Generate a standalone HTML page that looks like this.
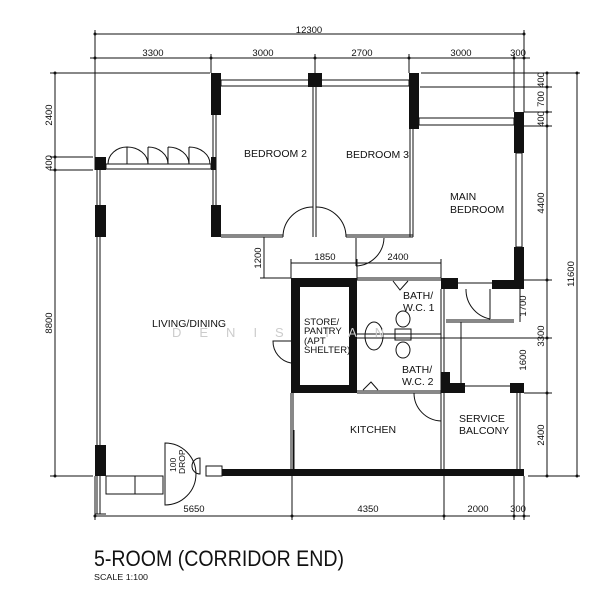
<!DOCTYPE html>
<html><head><meta charset="utf-8"><style>
html,body{margin:0;padding:0;background:#fff;}
svg{display:block;}
text{font-family:"Liberation Sans Narrow","Liberation Sans",sans-serif;fill:#111;}
</style></head><body>
<svg width="615" height="600" viewBox="0 0 615 600" xmlns="http://www.w3.org/2000/svg">
<g stroke="#111" stroke-width="1" fill="none">
<line x1="95" y1="34" x2="524" y2="34"/>
<line x1="95" y1="30" x2="95" y2="170"/><line x1="524" y1="30" x2="524" y2="112"/>
<line x1="90" y1="58" x2="530" y2="58"/>
<line x1="211" y1="54" x2="211" y2="73"/><line x1="315" y1="54" x2="315" y2="73"/>
<line x1="409" y1="54" x2="409" y2="73"/><line x1="514" y1="54" x2="514" y2="112"/>
<line x1="55" y1="73" x2="55" y2="476"/>
<line x1="50" y1="73" x2="210" y2="73"/>
<line x1="50" y1="157" x2="93" y2="157"/><line x1="50" y1="170" x2="93" y2="170"/>
<line x1="50" y1="476" x2="93" y2="476"/>
<line x1="421" y1="73" x2="580" y2="73"/>
<line x1="420" y1="87" x2="552" y2="87"/>
<line x1="524" y1="112" x2="552" y2="112"/><line x1="524" y1="126" x2="552" y2="126"/>
<line x1="547" y1="73" x2="547" y2="476"/>
<line x1="577" y1="73" x2="577" y2="476"/>
<line x1="524" y1="280" x2="552" y2="280"/>
<line x1="350" y1="338" x2="552" y2="338"/>
<line x1="524" y1="393" x2="552" y2="393"/>
<line x1="528" y1="476" x2="580" y2="476"/>
<line x1="291" y1="263" x2="441" y2="263"/>
<line x1="291" y1="259" x2="291" y2="278"/><line x1="357" y1="259" x2="357" y2="280"/><line x1="441" y1="259" x2="441" y2="278"/>
<line x1="264" y1="237" x2="264" y2="278"/><line x1="260" y1="278" x2="291" y2="278"/>
<line x1="95" y1="516" x2="530" y2="516"/>
<line x1="95" y1="476" x2="95" y2="520"/><line x1="292" y1="476" x2="292" y2="520"/>
<line x1="444" y1="476" x2="444" y2="520"/><line x1="514" y1="476" x2="514" y2="520"/><line x1="524" y1="476" x2="524" y2="520"/>
</g>
<g fill="#111">
<circle cx="95" cy="34" r="1.5"/><circle cx="524" cy="34" r="1.5"/>
<circle cx="95" cy="58" r="1.5"/><circle cx="211" cy="58" r="1.5"/><circle cx="315" cy="58" r="1.5"/><circle cx="409" cy="58" r="1.5"/><circle cx="514" cy="58" r="1.5"/><circle cx="524" cy="58" r="1.5"/>
<circle cx="55" cy="73" r="1.5"/><circle cx="55" cy="157" r="1.5"/><circle cx="55" cy="170" r="1.5"/><circle cx="55" cy="476" r="1.5"/>
<circle cx="547" cy="73" r="1.5"/><circle cx="547" cy="87" r="1.5"/><circle cx="547" cy="112" r="1.5"/><circle cx="547" cy="126" r="1.5"/><circle cx="547" cy="280" r="1.5"/><circle cx="547" cy="338" r="1.5"/><circle cx="547" cy="393" r="1.5"/><circle cx="547" cy="476" r="1.5"/>
<circle cx="577" cy="73" r="1.5"/><circle cx="577" cy="476" r="1.5"/>
<circle cx="95" cy="516" r="1.5"/><circle cx="292" cy="516" r="1.5"/><circle cx="444" cy="516" r="1.5"/><circle cx="514" cy="516" r="1.5"/><circle cx="524" cy="516" r="1.5"/>
<rect x="211" y="73" width="10" height="42"/>
<rect x="308" y="73" width="14" height="14"/>
<rect x="409" y="73" width="10" height="56"/>
<rect x="514" y="112" width="10" height="41"/>
<rect x="514" y="247" width="10" height="42"/>
<rect x="492" y="280" width="32" height="9"/>
<rect x="441" y="278" width="17" height="11"/>
<rect x="95" y="157" width="11" height="13"/>
<rect x="211" y="157" width="5" height="13"/>
<rect x="95" y="205" width="11" height="32"/>
<rect x="211" y="205" width="10" height="32"/>
<rect x="95" y="445" width="11" height="31"/>
<rect x="222" y="469" width="302" height="7"/>
<path d="M291 278H357V393H291Z M300 287V385H349V287Z" fill-rule="evenodd"/>
<rect x="441" y="372" width="9" height="21"/>
<rect x="441" y="383" width="24" height="10"/>
<rect x="510" y="383" width="14" height="10"/>
</g>
<g stroke="#111" stroke-width="1" fill="none">
<rect x="221" y="80" width="188" height="6"/>
<rect x="419" y="118" width="95" height="7"/>
<rect x="516" y="153" width="6" height="94"/>
<rect x="106" y="164" width="105" height="5"/>
<path d="M108 164 A19 17 0 0 1 127 147 M127 147 V164 M127 147 A21 17 0 0 1 148 164 M148 147 V164 M148 147 A20 17 0 0 1 168 164 M168 147 V164 M168 147 A21 17 0 0 1 189 164 M189 147 V164 M189 147 A21 17 0 0 1 210 164"/>
<line x1="97" y1="170" x2="97" y2="514"/><line x1="100" y1="170" x2="100" y2="445"/>
<line x1="213" y1="115" x2="213" y2="237"/><line x1="216" y1="115" x2="216" y2="237"/>
<line x1="313" y1="87" x2="313" y2="237"/><line x1="316" y1="87" x2="316" y2="237"/>
<line x1="410" y1="129" x2="410" y2="237"/><line x1="413" y1="129" x2="413" y2="237"/>
<line x1="221" y1="235" x2="283" y2="235"/><line x1="221" y1="237" x2="283" y2="237"/>
<line x1="346" y1="235" x2="413" y2="235"/><line x1="346" y1="237" x2="413" y2="237"/>
<path d="M283 237 A30 30 0 0 1 313 207 M346 237 A30 30 0 0 0 316 207"/>
<path d="M384 238 A29 29 0 0 1 356 266"/><line x1="356" y1="238" x2="356" y2="266"/>
<line x1="357" y1="278" x2="441" y2="278"/><line x1="357" y1="280" x2="441" y2="280"/>
<line x1="357" y1="393" x2="441" y2="393"/><line x1="357" y1="391" x2="441" y2="391"/>
<line x1="357" y1="334" x2="441" y2="334"/>
<line x1="441" y1="289" x2="441" y2="476"/><line x1="444" y1="289" x2="444" y2="476"/>
<line x1="458" y1="283" x2="492" y2="283"/>
<line x1="446" y1="320" x2="514" y2="320"/><line x1="446" y1="322" x2="514" y2="322"/>
<line x1="461" y1="322" x2="461" y2="383"/>
<line x1="520" y1="289" x2="520" y2="322"/>
<path d="M490 319 A30 30 0 0 1 466 289"/><line x1="490" y1="289" x2="490" y2="319"/>
<line x1="465" y1="386" x2="510" y2="386"/>
<line x1="517" y1="393" x2="517" y2="469"/><line x1="520" y1="393" x2="520" y2="469"/>
<line x1="291" y1="393" x2="291" y2="469"/><line x1="293" y1="393" x2="293" y2="469"/>
<line x1="294" y1="430" x2="294" y2="469"/>
<path d="M414 393 A28 28 0 0 0 441 421"/><line x1="414" y1="393" x2="441" y2="393"/>
<path d="M291 341 H273 A22 22 0 0 0 291 363"/>
<ellipse cx="374" cy="336" rx="9" ry="14"/>
<ellipse cx="403" cy="319" rx="7" ry="8"/><rect x="395" y="329" width="16" height="11"/><ellipse cx="403" cy="350" rx="7" ry="8"/>
<path d="M393 281 L400 290 L408 281 M363 390 L371 382 L378 390"/>
<rect x="106" y="476" width="57" height="18"/>
<line x1="135" y1="476" x2="135" y2="494"/>
<line x1="100" y1="476" x2="100" y2="514"/><line x1="95" y1="514" x2="106" y2="514"/>
<path d="M165 443 A31 31 0 0 1 165 505 Z"/>
<path d="M200 458 A8 8 0 0 0 200 474 Z"/>
<rect x="206" y="466" width="16" height="10"/>
</g>
<text x="172" y="337" font-size="13" style="fill:#ccc;letter-spacing:18px">DENIS TAN</text>
<g font-size="9.5" text-anchor="middle">
<text x="309" y="33">12300</text>
<text x="153" y="56">3300</text><text x="263" y="56">3000</text><text x="362" y="56">2700</text><text x="461" y="56">3000</text><text x="518" y="56">300</text>
<text x="325" y="260">1850</text><text x="398" y="260">2400</text>
<text x="194" y="512">5650</text><text x="368" y="512">4350</text><text x="478" y="512">2000</text><text x="518" y="512">300</text>
<text transform="translate(52,115) rotate(-90)">2400</text>
<text transform="translate(52,163) rotate(-90)">400</text>
<text transform="translate(52,323) rotate(-90)">8800</text>
<text transform="translate(261,258) rotate(-90)">1200</text>
<text transform="translate(544,80) rotate(-90)">400</text>
<text transform="translate(544,99) rotate(-90)">700</text>
<text transform="translate(544,119) rotate(-90)">400</text>
<text transform="translate(544,203) rotate(-90)">4400</text>
<text transform="translate(526,306) rotate(-90)">1700</text>
<text transform="translate(544,336) rotate(-90)">3300</text>
<text transform="translate(526,360) rotate(-90)">1600</text>
<text transform="translate(544,435) rotate(-90)">2400</text>
<text transform="translate(574,274) rotate(-90)">11600</text>
</g>
<g font-size="10.5">
<text x="244" y="157">BEDROOM 2</text>
<text x="346" y="158">BEDROOM 3</text>
<text x="450" y="200">MAIN</text><text x="450" y="213">BEDROOM</text>
<text x="152" y="327">LIVING/DINING</text>
<text x="403" y="299">BATH/</text><text x="403" y="311">W.C. 1</text>
<text x="402" y="373">BATH/</text><text x="402" y="385">W.C. 2</text>
<text x="350" y="433">KITCHEN</text>
<text x="459" y="422">SERVICE</text><text x="459" y="434">BALCONY</text>
</g>
<g font-size="9.5">
<text x="304" y="325">STORE/</text><text x="304" y="334">PANTRY</text><text x="304" y="344">(APT</text><text x="304" y="353">SHELTER)</text>
</g>
<text transform="translate(176,472) rotate(-90)" font-size="8.5">100</text>
<text transform="translate(185,474) rotate(-90)" font-size="8.5">DROP</text>
<text x="94" y="566" font-size="22" textLength="250" lengthAdjust="spacingAndGlyphs">5-ROOM (CORRIDOR END)</text>
<text x="94" y="580" font-size="8" textLength="54" lengthAdjust="spacingAndGlyphs">SCALE   1:100</text>
</svg>
</body></html>
